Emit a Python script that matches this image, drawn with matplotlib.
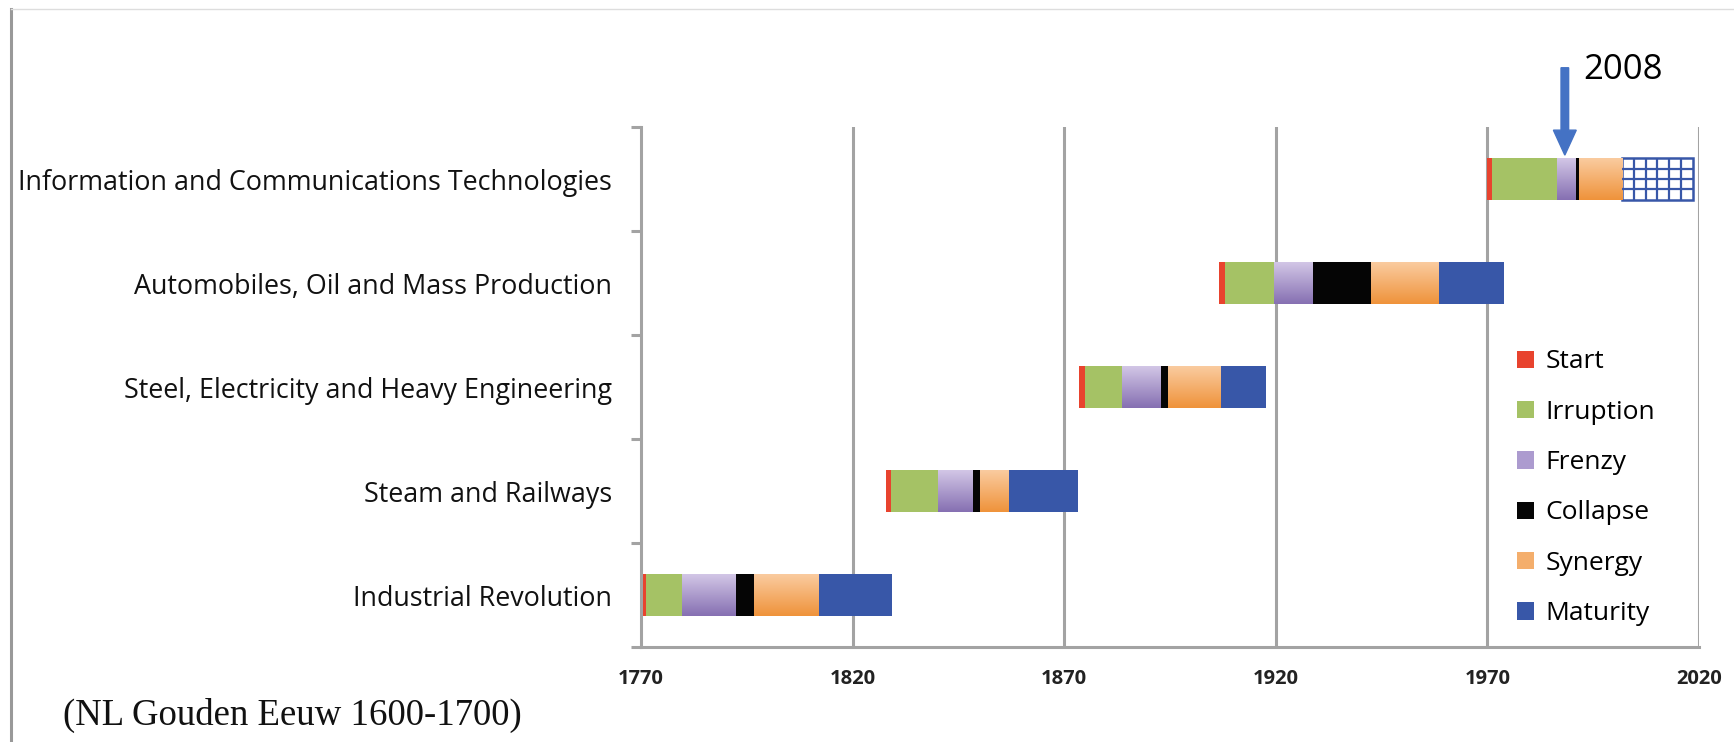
import numpy as np
import matplotlib
matplotlib.use('Agg')
import matplotlib.pyplot as plt
from matplotlib.patches import Patch
from matplotlib.lines import Line2D
from matplotlib.colors import LinearSegmentedColormap

# data: techno-economic revolutions and their phase lengths (years)
revolutions = ['Industrial Revolution',
               'Steam and Railways',
               'Steel, Electricity and Heavy Engineering',
               'Automobiles, Oil and Mass Production',
               'Information and Communications Technologies']
phases = ['Start', 'Irruption', 'Frenzy', 'Collapse', 'Synergy', 'Maturity']
start_year = [1770.4, 1827.9, 1873.5, 1906.5, 1970.0]
durations = [
    [0.8, 8.5, 12.7, 4.3, 15.3, 17.2],
    [1.1, 11.2, 8.1, 1.9, 6.8, 16.2],
    [1.4, 8.7, 9.1, 1.8, 12.3, 11.0],
    [1.5, 11.5, 9.0, 14.0, 16.0, 15.5],
    [1.2, 15.2, 4.4, 0.8, 10.2, 16.7],
]
years = [1770, 1820, 1870, 1920, 1970, 2020]
arrow_year = 1988.3
arrow_label = '2008'
note = '(NL Gouden Eeuw 1600-1700)'

colors = {'Start': '#E8432E', 'Irruption': '#A5C265', 'Frenzy': '#AC9BCF',
          'Collapse': '#050505', 'Synergy': '#F4AE6C', 'Maturity': '#3857A8'}
gradients = {'Frenzy': ('#D2C6E6', '#8670B2'), 'Synergy': ('#FACB9F', '#EF933B')}

plt.rcParams['font.family'] = ['Open Sans', 'DejaVu Sans']

fig = plt.figure(figsize=(17.34, 7.42), dpi=100)
ax = fig.add_axes([0.3697, 0.128, 0.6101, 0.7008])

bar_h = 0.4
for i, name in enumerate(revolutions):
    left = start_year[i]
    for j, ph in enumerate(phases):
        w = durations[i][j]
        y0, y1 = i + 0.5 - bar_h / 2, i + 0.5 + bar_h / 2
        if name.startswith('Information') and ph == 'Maturity':
            # open box with a blue grid (future phase)
            ax.barh(i + 0.5, w, left=left, height=bar_h, facecolor='white',
                    edgecolor=colors[ph], linewidth=1.8, zorder=3)
            ax.vlines(np.linspace(left, left + w, 7)[1:-1], y0, y1,
                      color=colors[ph], lw=1.6, zorder=3.5)
            ax.hlines(np.linspace(y0, y1, 5)[1:-1], left, left + w,
                      color=colors[ph], lw=1.6, zorder=3.5)
        else:
            bar = ax.barh(i + 0.5, w, left=left, height=bar_h,
                          color=colors[ph], linewidth=0, zorder=3)[0]
            if ph in gradients:
                top, bot = gradients[ph]
                cmap = LinearSegmentedColormap.from_list('g', [bot, top])
                grad = np.linspace(0, 1, 64).reshape(-1, 1)
                im = ax.imshow(grad, extent=[left, left + w, y0, y1],
                               origin='lower', cmap=cmap, aspect='auto', zorder=3.5)
                im.set_clip_path(bar)
        left += w

ax.set_xlim(years[0], years[-1])
ax.set_ylim(0, len(revolutions))

# gridlines
for yr in years[1:]:
    ax.axvline(yr, color='#A3A3A3', lw=2.2, zorder=1)

for s in ['top', 'right']:
    ax.spines[s].set_visible(False)
for s in ['left', 'bottom']:
    ax.spines[s].set_color('#A3A3A3')
    ax.spines[s].set_linewidth(2.2)

ax.set_xticks(years)
ax.set_xticklabels([str(y) for y in years], fontsize=14.5, fontweight='bold', color='#222222')
ax.tick_params(axis='x', length=0, pad=16)

ax.set_yticks(np.arange(len(revolutions)) + 0.5)
ax.set_yticklabels(revolutions, fontsize=19.4, color='#111111')
ax.set_yticks(np.arange(len(revolutions) + 1), minor=True)
ax.tick_params(axis='y', which='major', length=0, pad=21)
ax.tick_params(axis='y', which='minor', length=7, width=2.2, color='#A3A3A3', direction='out')

# legend
handles = [Patch(facecolor=colors[p], edgecolor='none') for p in phases]
fig.legend(handles, phases, loc='upper left', bbox_to_anchor=(0.875, 0.529),
           frameon=False, fontsize=19, handlelength=0.63, handleheight=0.63,
           handletextpad=0.44, labelspacing=0.96, borderpad=0, borderaxespad=0)

# 2008 arrow
ax.arrow(arrow_year, 5.57, 0, -0.84, width=1.8, head_width=5.4, head_length=0.24,
         length_includes_head=True, color='#4472C4', clip_on=False, zorder=5)
ax.text(arrow_year + 4.3, 5.55, arrow_label, fontsize=25, va='center', ha='left')

# frame lines around the figure
fig.add_artist(Line2D([11 / 1734, 11 / 1734], [0, 1 - 9 / 742], color='#999999', lw=2.2))
fig.add_artist(Line2D([11 / 1734, 1], [1 - 9 / 742, 1 - 9 / 742], color='#DDDDDD', lw=1))

fig.text(63 / 1734, 1 - 715 / 742, note, fontsize=26.5, family='Liberation Serif',
         va='center', ha='left', color='#111111')

fig.savefig('out.png', dpi=100)
